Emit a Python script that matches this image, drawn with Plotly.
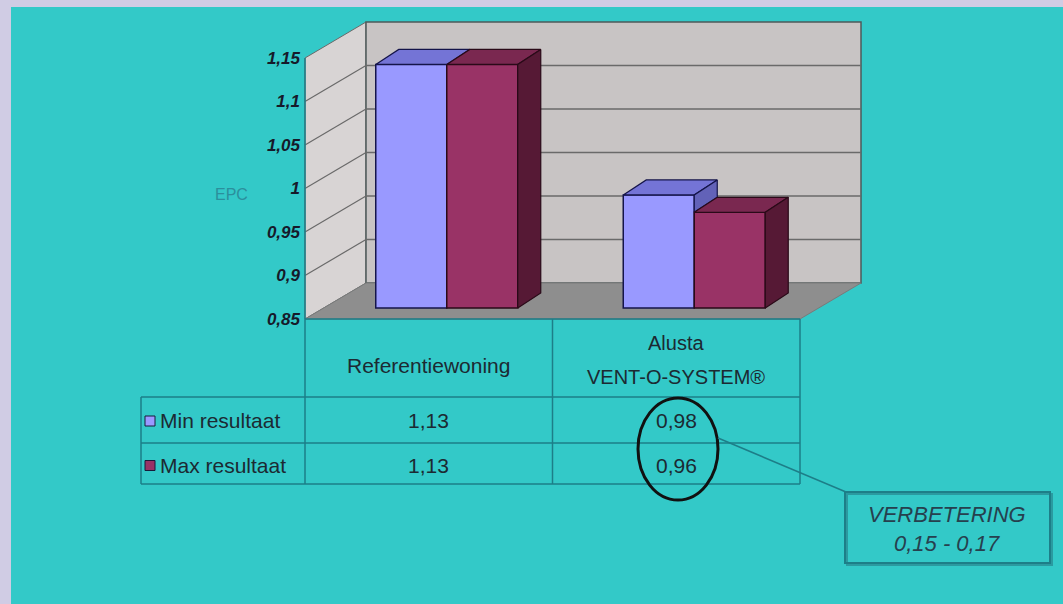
import plotly.graph_objects as go

# ---------------- data ----------------
categories = ["Referentiewoning", "Alusta\nVENT-O-SYSTEM®"]
series_names = ["Min resultaat", "Max resultaat"]
min_values = [1.13, 0.98]
max_values = [1.13, 0.96]
y_ticks = [0.85, 0.9, 0.95, 1.0, 1.05, 1.1, 1.15]
y_tick_labels = ["0,85", "0,9", "0,95", "1", "1,05", "1,1", "1,15"]
axis_title = "EPC"
callout_title = "VERBETERING"

# ---------------- layout geometry (pixels) ----------------
W, H = 1063, 604
AX_X, FRONT_R = 305, 800
PY_BASE, PY_TOP = 319, 58
YMIN, YMAX = y_ticks[0], y_ticks[-1]
PPU = (PY_BASE - PY_TOP) / (YMAX - YMIN)


def Y(py):
    return YMIN + (PY_BASE - py) / PPU


def du(px):
    return px / PPU


def px(x):
    return x / W


def py(y):
    return 1 - y / H


DX, DY = 61, 36          # wall depth
OX, OY = 18, 11          # bar front offset inside floor
BX, BY = 23, 15          # bar depth
BAR_W = 71

BG_LAV = "#D0CCE4"
BG_TEAL = "#33C9C8"
MIN_C = {"front": "#9999FF", "top": "#7474D6", "side": "#6262B8"}
MAX_C = {"front": "#993366", "top": "#7A2850", "side": "#561935"}
TABLE_LINE = "#1D7E88"
TEXT_C = "#1C2A32"

fig = go.Figure()
shapes = []

# teal panel
shapes.append(dict(type="rect", xref="paper", yref="paper", x0=px(11), x1=1, y0=0, y1=py(7),
                   fillcolor=BG_TEAL, line=dict(width=0), layer="below"))


def path(pts):
    return "M " + " L ".join(f"{x},{y}" for x, y in pts) + " Z"


d = du(DY)
# side wall
shapes.append(dict(type="path", xref="x", yref="y", layer="below",
                   path=path([(AX_X, YMIN), (AX_X + DX, YMIN + d), (AX_X + DX, YMAX + d), (AX_X, YMAX)]),
                   fillcolor="#D8D4D4", line=dict(color="#6A6A6A", width=1)))
# back wall
shapes.append(dict(type="path", xref="x", yref="y", layer="below",
                   path=path([(AX_X + DX, YMIN + d), (FRONT_R + DX, YMIN + d), (FRONT_R + DX, YMAX + d), (AX_X + DX, YMAX + d)]),
                   fillcolor="#C8C4C4", line=dict(color="#4E5A5A", width=1.5)))
# gridlines
for v in y_ticks[1:-1]:
    shapes.append(dict(type="line", xref="x", yref="y", layer="below",
                       x0=AX_X, y0=v, x1=AX_X + DX, y1=v + d, line=dict(color="#6A6A6A", width=1.2)))
    shapes.append(dict(type="line", xref="x", yref="y", layer="below",
                       x0=AX_X + DX, y0=v + d, x1=FRONT_R + DX, y1=v + d, line=dict(color="#6A6A6A", width=1.5)))
# floor
shapes.append(dict(type="path", xref="x", yref="y", layer="below",
                   path=path([(AX_X, YMIN), (FRONT_R, YMIN), (FRONT_R + DX, YMIN + d), (AX_X + DX, YMIN + d)]),
                   fillcolor="#8E8E8E", line=dict(color="#7A7A7A", width=1)))

# ---------------- bars ----------------
n_cat = len(categories)
cat_w = (FRONT_R - AX_X) / n_cat
centers = [AX_X + cat_w * (i + 0.5) + OX for i in range(n_cat)]
base = YMIN + du(OY)

fig.add_trace(go.Bar(x=[c - BAR_W / 2 for c in centers], y=[v - YMIN for v in min_values], base=base,
                     width=BAR_W, marker=dict(color=MIN_C["front"], line=dict(color="#14144A", width=1.5)),
                     name=series_names[0], showlegend=False, hoverinfo="skip"))
fig.add_trace(go.Bar(x=[c + BAR_W / 2 for c in centers], y=[v - YMIN for v in max_values], base=base,
                     width=BAR_W, marker=dict(color=MAX_C["front"], line=dict(color="#2A0A18", width=1.5)),
                     name=series_names[1], showlegend=False, hoverinfo="skip"))


def face(pts, color, lc):
    xs = [p[0] for p in pts] + [pts[0][0]]
    ys = [p[1] for p in pts] + [pts[0][1]]
    fig.add_trace(go.Scatter(x=xs, y=ys, mode="lines", fill="toself", fillcolor=color,
                             line=dict(color=lc, width=1.2), hoverinfo="skip", showlegend=False))


db = du(BY)
for i in range(n_cat):
    c = centers[i]
    # min bar
    x0, x1 = c - BAR_W, c
    t = min_values[i] + du(OY)
    t2 = max_values[i] + du(OY)
    face([(x0, t), (x1, t), (x1 + BX, t + db), (x0 + BX, t + db)], MIN_C["top"], "#14144A")
    if t > t2:
        face([(x1, t2), (x1, t), (x1 + BX, t + db), (x1 + BX, t2 + db)], MIN_C["side"], "#14144A")
    # max bar
    x0, x1 = c, c + BAR_W
    face([(x0, t2), (x1, t2), (x1 + BX, t2 + db), (x0 + BX, t2 + db)], MAX_C["top"], "#2A0A18")
    face([(x1, base), (x1, t2), (x1 + BX, t2 + db), (x1 + BX, base + db)], MAX_C["side"], "#2A0A18")

# ---------------- table ----------------
T_HDR_B, T_ROW1_B, T_ROW2_B = 397, 443, 484
T_LEFT = 141
col_edges = [AX_X + cat_w * i for i in range(n_cat + 1)]
lines = [
    (AX_X, PY_TOP, AX_X, T_ROW2_B),
    (FRONT_R, PY_BASE, FRONT_R, T_ROW2_B),
    (AX_X, PY_BASE, FRONT_R, PY_BASE),
    (T_LEFT, T_HDR_B, FRONT_R, T_HDR_B),
    (T_LEFT, T_ROW1_B, FRONT_R, T_ROW1_B),
    (T_LEFT, T_ROW2_B, FRONT_R, T_ROW2_B),
    (T_LEFT, T_HDR_B, T_LEFT, T_ROW2_B),
]
for e in col_edges[1:-1]:
    lines.append((e, PY_BASE, e, T_ROW2_B))
for (a, b, c2, d2) in lines:
    shapes.append(dict(type="line", xref="paper", yref="paper", x0=px(a), y0=py(b), x1=px(c2), y1=py(d2),
                       line=dict(color=TABLE_LINE, width=1.5)))

annotations = []
FONT = "Arial"


def label(x, y, text, size, color=TEXT_C, xanchor="center", **fkw):
    annotations.append(dict(x=px(x), y=py(y), text=text, showarrow=False, xref="paper", yref="paper",
                            xanchor=xanchor, yanchor="middle",
                            font=dict(family=FONT, size=size, color=color, **fkw)))


col_centers = [(col_edges[i] + col_edges[i + 1]) / 2 for i in range(n_cat)]
for i, cat in enumerate(categories):
    parts = cat.split("\n")
    if len(parts) == 1:
        label(col_centers[i], 365, parts[0], 21)
    else:
        for k, ptxt in enumerate(parts):
            label(col_centers[i], 343 + 34 * k, ptxt, 20)

rows = [(series_names[0], min_values, MIN_C["front"], (T_HDR_B + T_ROW1_B) / 2 + 1),
        (series_names[1], max_values, MAX_C["front"], (T_ROW1_B + T_ROW2_B) / 2 + 2)]
for name, vals, col, ym in rows:
    shapes.append(dict(type="rect", xref="paper", yref="paper", x0=px(145), x1=px(155), y0=py(ym + 5), y1=py(ym - 5),
                       fillcolor=col, line=dict(color="#1A1A3A", width=1)))
    label(158, ym, name, 21, xanchor="left")
    for i, v in enumerate(vals):
        label(col_centers[i], ym, f"{v:.2f}".replace(".", ","), 21)

# ellipse around improved values
shapes.append(dict(type="circle", xref="paper", yref="paper", x0=px(638), x1=px(718), y0=py(500), y1=py(398),
                   line=dict(color="#111111", width=3)))
# connector
shapes.append(dict(type="line", xref="paper", yref="paper", x0=px(718), y0=py(438), x1=px(846), y1=py(492),
                   line=dict(color=TABLE_LINE, width=1.5)))
# callout box (shadow + box)
shapes.append(dict(type="rect", xref="paper", yref="paper", x0=px(847), x1=px(1052), y0=py(565), y1=py(494),
                   fillcolor="rgba(0,0,0,0)", line=dict(color="#2A9AA0", width=2)))
shapes.append(dict(type="rect", xref="paper", yref="paper", x0=px(845), x1=px(1050), y0=py(563), y1=py(492),
                   fillcolor="rgba(0,0,0,0)", line=dict(color=TABLE_LINE, width=2)))
imp_lo = round(min_values[0] - min_values[1], 2)
imp_hi = round(max_values[0] - max_values[1], 2)
label(947, 514, callout_title, 22, color="#26404E", style="italic")
label(947, 543, f"{imp_lo:.2f}".replace(".", ",") + " - " + f"{imp_hi:.2f}".replace(".", ","), 22,
      color="#26404E", style="italic")
# axis title
label(231, 195, axis_title, 16, color="#2B8F9C")

fig.update_layout(
    width=W, height=H,
    margin=dict(l=0, r=0, t=0, b=0),
    paper_bgcolor=BG_LAV, plot_bgcolor="rgba(0,0,0,0)",
    showlegend=False,
    barmode="overlay",
    xaxis=dict(range=[0, W], visible=False, domain=[0, 1], fixedrange=True),
    yaxis=dict(range=[Y(H), Y(0)], domain=[0, 1], anchor="free", position=AX_X / W,
               tickmode="array", tickvals=y_ticks, ticktext=y_tick_labels,
               showgrid=False, zeroline=False, showline=False, ticks="", ticklabelstandoff=5,
               tickfont=dict(family=FONT, size=17, color="#161A2A", weight="bold", style="italic"),
               fixedrange=True),
    shapes=shapes,
    annotations=annotations,
)

fig.write_html("out.html")
